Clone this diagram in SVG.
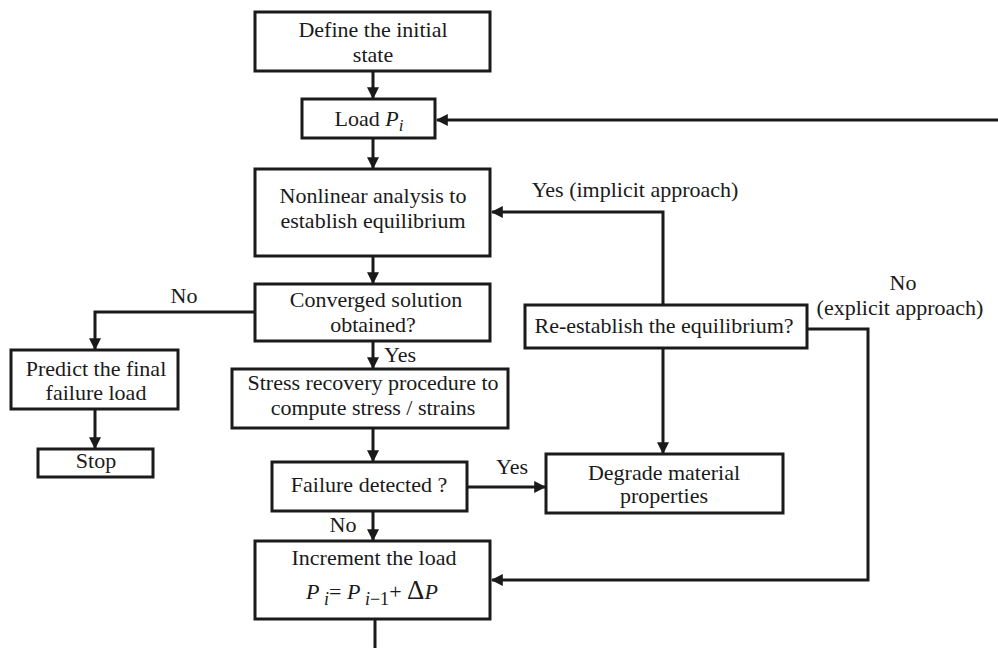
<svg xmlns="http://www.w3.org/2000/svg" width="998" height="648" viewBox="0 0 998 648">
  <style>
    .box { fill: #ffffff; stroke: #1a1a1a; stroke-width: 3; }
    .wire { fill: none; stroke: #1a1a1a; stroke-width: 3; }
    .t { font-family: "Liberation Serif", "Times New Roman", serif; font-size: 22px; fill: #1a1a1a; text-anchor: middle; }
    .it { font-style: italic; }
  </style>
  <defs>
    <marker id="arrow" viewBox="0 0 10 10" refX="9" refY="5" markerWidth="4" markerHeight="4" orient="auto" markerUnits="strokeWidth">
      <path d="M0,0 L10,5 L0,10 z" fill="#1a1a1a"/>
    </marker>
  </defs>
  <rect width="998" height="648" fill="#ffffff"/>

  <!-- connectors -->
  <g id="connectors">
    <line class="wire" x1="373" y1="71" x2="373" y2="98" marker-end="url(#arrow)"/>
    <line class="wire" x1="998" y1="120" x2="437" y2="120" marker-end="url(#arrow)"/>
    <line class="wire" x1="373" y1="138" x2="373" y2="168" marker-end="url(#arrow)"/>
    <line class="wire" x1="373" y1="256" x2="373" y2="283" marker-end="url(#arrow)"/>
    <polyline class="wire" points="255,312 95,312 95,349" marker-end="url(#arrow)"/>
    <line class="wire" x1="95" y1="409" x2="95" y2="448" marker-end="url(#arrow)"/>
    <line class="wire" x1="373" y1="341" x2="373" y2="368" marker-end="url(#arrow)"/>
    <line class="wire" x1="373" y1="428" x2="373" y2="461" marker-end="url(#arrow)"/>
    <line class="wire" x1="467" y1="487" x2="545" y2="487" marker-end="url(#arrow)"/>
    <line class="wire" x1="373" y1="511" x2="373" y2="540" marker-end="url(#arrow)"/>
    <line class="wire" x1="375" y1="619" x2="375" y2="648"/>
    <polyline class="wire" points="663,305 663,212 492,212" marker-end="url(#arrow)"/>
    <line class="wire" x1="663" y1="348" x2="663" y2="453" marker-end="url(#arrow)"/>
    <polyline class="wire" points="807,329 868,329 868,580 492,580" marker-end="url(#arrow)"/>
  </g>

  <!-- connector labels -->
  <g id="labels">
    <text class="t" x="184" y="303">No</text>
    <text class="t" x="400" y="362">Yes</text>
    <text class="t" x="512" y="474">Yes</text>
    <text class="t" x="343" y="532">No</text>
    <text class="t" x="635" y="197">Yes (implicit approach)</text>
    <text class="t" x="903" y="290">No</text>
    <text class="t" x="900" y="315">(explicit approach)</text>
  </g>

  <g id="define">
    <rect class="box" x="255" y="12" width="235" height="59"/>
    <text class="t" x="373" y="37">Define the initial</text>
    <text class="t" x="373" y="62">state</text>
  </g>

  <g id="load">
    <rect class="box" x="302" y="99" width="133" height="39"/>
    <text class="t" x="369" y="126">Load <tspan class="it">P</tspan><tspan class="it" font-size="17" dy="5">i</tspan></text>
  </g>

  <g id="nonlinear">
    <rect class="box" x="255" y="169" width="235" height="87"/>
    <text class="t" x="373" y="203">Nonlinear analysis to</text>
    <text class="t" x="373" y="228">establish equilibrium</text>
  </g>

  <g id="converged">
    <rect class="box" x="255" y="284" width="235" height="57"/>
    <text class="t" x="376" y="307">Converged solution</text>
    <text class="t" x="373" y="332">obtained?</text>
  </g>

  <g id="predict">
    <rect class="box" x="11" y="350" width="167" height="59"/>
    <text class="t" x="96" y="376">Predict the final</text>
    <text class="t" x="96" y="400">failure load</text>
  </g>

  <g id="stop">
    <rect class="box" x="38" y="449" width="115" height="28"/>
    <text class="t" x="96" y="468">Stop</text>
  </g>

  <g id="stress">
    <rect class="box" x="232" y="369" width="276" height="59"/>
    <text class="t" x="373" y="390">Stress recovery procedure to</text>
    <text class="t" x="373" y="415">compute stress / strains</text>
  </g>

  <g id="failure">
    <rect class="box" x="272" y="462" width="195" height="49"/>
    <text class="t" x="369" y="492">Failure detected ?</text>
  </g>

  <g id="reestablish">
    <rect class="box" x="525" y="305" width="282" height="43"/>
    <text class="t" x="664" y="333">Re-establish the equilibrium?</text>
  </g>

  <g id="degrade">
    <rect class="box" x="546" y="454" width="237" height="59"/>
    <text class="t" x="664" y="480">Degrade material</text>
    <text class="t" x="664" y="503">properties</text>
  </g>

  <g id="increment">
    <rect class="box" x="255" y="541" width="235" height="78"/>
    <text class="t" x="374" y="565">Increment the load</text>
    <text class="t" x="372" y="599" font-size="24"><tspan class="it">P</tspan><tspan class="it" font-size="18" dy="6"> i</tspan><tspan dy="-6">= </tspan><tspan class="it">P</tspan><tspan class="it" font-size="18" dy="6"> i</tspan><tspan font-size="18">−1</tspan><tspan dy="-6">+ </tspan><tspan font-size="27">Δ</tspan><tspan class="it">P</tspan></text>
  </g>
</svg>
